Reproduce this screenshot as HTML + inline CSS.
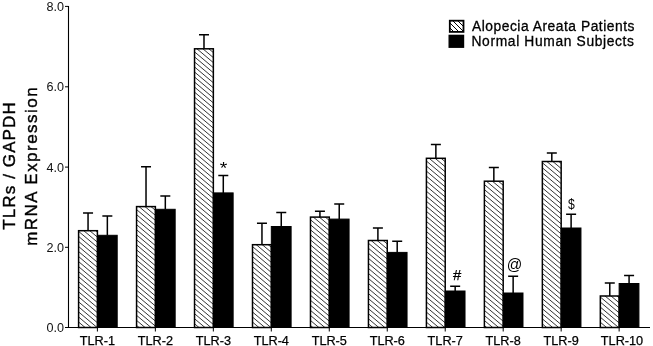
<!DOCTYPE html>
<html><head><meta charset="utf-8"><style>
html,body{margin:0;padding:0;background:#fff;}
svg{display:block;will-change:transform;}
text{font-family:"Liberation Sans",sans-serif;fill:#000;}
.yl{font-size:12.6px;fill:#111;}
.xl{font-size:12.7px;stroke:#000;stroke-width:0.25px;}
.lg{font-size:13.8px;stroke:#000;stroke-width:0.3px;}
.an{stroke:#000;stroke-width:0.25px;}
.tt{font-size:17px;stroke:#000;stroke-width:0.4px;}
</style></head><body>
<svg width="653" height="346" viewBox="0 0 653 346">
<defs>
<clipPath id="hclip"><rect x="78.6" y="230.7" width="18.8" height="96.8"/><rect x="136.57" y="206.6" width="18.8" height="120.9"/><rect x="194.54" y="48.8" width="18.8" height="278.7"/><rect x="252.51" y="244.7" width="18.8" height="82.8"/><rect x="310.48" y="217.1" width="18.8" height="110.4"/><rect x="368.45" y="240.5" width="18.8" height="87.0"/><rect x="426.42" y="158.3" width="18.8" height="169.2"/><rect x="484.39" y="181.2" width="18.8" height="146.3"/><rect x="542.36" y="161.5" width="18.8" height="166.0"/><rect x="600.33" y="296.0" width="18.8" height="31.5"/></clipPath><clipPath id="lclip"><rect x="449.8" y="20.7" width="13.7" height="11.2"/></clipPath>
</defs>
<rect width="653" height="346" fill="#fff"/>
<g clip-path="url(#hclip)"><path d="M60 -504.23L660 -0.23M60 -499.2L660 4.8M60 -494.16L660 9.84M60 -489.12L660 14.88M60 -484.09L660 19.91M60 -479.06L660 24.94M60 -474.02L660 29.98M60 -468.99L660 35.01M60 -463.95L660 40.05M60 -458.92L660 45.08M60 -453.88L660 50.12M60 -448.85L660 55.15M60 -443.81L660 60.19M60 -438.78L660 65.22M60 -433.74L660 70.26M60 -428.71L660 75.29M60 -423.67L660 80.33M60 -418.64L660 85.36M60 -413.6L660 90.4M60 -408.57L660 95.43M60 -403.53L660 100.47M60 -398.5L660 105.5M60 -393.46L660 110.54M60 -388.43L660 115.57M60 -383.39L660 120.61M60 -378.36L660 125.64M60 -373.32L660 130.68M60 -368.29L660 135.71M60 -363.25L660 140.75M60 -358.22L660 145.78M60 -353.18L660 150.82M60 -348.15L660 155.85M60 -343.11L660 160.89M60 -338.08L660 165.92M60 -333.04L660 170.96M60 -328.01L660 175.99M60 -322.97L660 181.03M60 -317.94L660 186.06M60 -312.9L660 191.1M60 -307.87L660 196.13M60 -302.83L660 201.17M60 -297.8L660 206.2M60 -292.76L660 211.24M60 -287.73L660 216.27M60 -282.69L660 221.31M60 -277.66L660 226.34M60 -272.62L660 231.38M60 -267.59L660 236.41M60 -262.55L660 241.45M60 -257.52L660 246.48M60 -252.48L660 251.52M60 -247.45L660 256.55M60 -242.41L660 261.59M60 -237.38L660 266.62M60 -232.34L660 271.66M60 -227.31L660 276.69M60 -222.27L660 281.73M60 -217.23L660 286.76M60 -212.2L660 291.8M60 -207.16L660 296.83M60 -202.13L660 301.87M60 -197.09L660 306.9M60 -192.06L660 311.94M60 -187.03L660 316.97M60 -181.99L660 322.01M60 -176.96L660 327.04M60 -171.92L660 332.08M60 -166.89L660 337.11M60 -161.85L660 342.15M60 -156.81L660 347.18M60 -151.78L660 352.22M60 -146.75L660 357.25M60 -141.71L660 362.29M60 -136.68L660 367.32M60 -131.64L660 372.36M60 -126.6L660 377.39M60 -121.57L660 382.43M60 -116.53L660 387.46M60 -111.5L660 392.5M60 -106.47L660 397.53M60 -101.43L660 402.57M60 -96.4L660 407.6M60 -91.36L660 412.64M60 -86.33L660 417.67M60 -81.29L660 422.71M60 -76.25L660 427.75M60 -71.22L660 432.78M60 -66.19L660 437.81M60 -61.15L660 442.85M60 -56.12L660 447.88M60 -51.08L660 452.92M60 -46.05L660 457.95M60 -41.01L660 462.99M60 -35.98L660 468.02M60 -30.94L660 473.06M60 -25.91L660 478.09M60 -20.87L660 483.13M60 -15.84L660 488.16M60 -10.8L660 493.2M60 -5.77L660 498.23M60 -0.73L660 503.27M60 4.3L660 508.3M60 9.34L660 513.34M60 14.38L660 518.38M60 19.41L660 523.41M60 24.44L660 528.44M60 29.48L660 533.48M60 34.52L660 538.51M60 39.55L660 543.55M60 44.59L660 548.58M60 49.62L660 553.62M60 54.66L660 558.65M60 59.69L660 563.69M60 64.72L660 568.73M60 69.76L660 573.76M60 74.8L660 578.79M60 79.83L660 583.83M60 84.87L660 588.87M60 89.9L660 593.9M60 94.94L660 598.93M60 99.97L660 603.97M60 105.0L660 609.0M60 110.04L660 614.04M60 115.07L660 619.07M60 120.11L660 624.11M60 125.15L660 629.14M60 130.18L660 634.18M60 135.22L660 639.21M60 140.25L660 644.25M60 145.28L660 649.28M60 150.32L660 654.32M60 155.35L660 659.36M60 160.39L660 664.39M60 165.43L660 669.42M60 170.46L660 674.46M60 175.5L660 679.5M60 180.53L660 684.53M60 185.56L660 689.56M60 190.6L660 694.6M60 195.64L660 699.63M60 200.67L660 704.67M60 205.71L660 709.7M60 210.74L660 714.74M60 215.78L660 719.77M60 220.81L660 724.81M60 225.84L660 729.85M60 230.88L660 734.88M60 235.91L660 739.91M60 240.95L660 744.95M60 245.99L660 749.99M60 251.02L660 755.02M60 256.06L660 760.05M60 261.09L660 765.09M60 266.12L660 770.12M60 271.16L660 775.16M60 276.19L660 780.19M60 281.23L660 785.23M60 286.26L660 790.26M60 291.3L660 795.3M60 296.33L660 800.34M60 301.37L660 805.37M60 306.4L660 810.4M60 311.44L660 815.44M60 316.47L660 820.47M60 321.51L660 825.51M60 326.54L660 830.54M60 331.58L660 835.58M60 336.62L660 840.62M60 341.65L660 845.65M60 346.69L660 850.68" stroke="#000" stroke-width="0.8" fill="none"/></g>
<rect x="78.6" y="230.7" width="18.8" height="96.8" fill="none" stroke="#000" stroke-width="1.5"/>
<rect x="97.4" y="235.3" width="19.8" height="92.2" fill="#000" stroke="#000" stroke-width="1"/>
<path d="M88.05 230.7V213.1M83.05 213.1H93.05" stroke="#000" stroke-width="1.5" fill="none"/>
<path d="M107.35 235.3V216.0M102.35 216.0H112.35" stroke="#000" stroke-width="1.5" fill="none"/>
<rect x="136.57" y="206.6" width="18.8" height="120.9" fill="none" stroke="#000" stroke-width="1.5"/>
<rect x="155.37" y="209.3" width="19.8" height="118.2" fill="#000" stroke="#000" stroke-width="1"/>
<path d="M146.02 206.6V166.7M141.02 166.7H151.02" stroke="#000" stroke-width="1.5" fill="none"/>
<path d="M165.32 209.3V196.1M160.32 196.1H170.32" stroke="#000" stroke-width="1.5" fill="none"/>
<rect x="194.54" y="48.8" width="18.8" height="278.7" fill="none" stroke="#000" stroke-width="1.5"/>
<rect x="213.34" y="192.9" width="19.8" height="134.6" fill="#000" stroke="#000" stroke-width="1"/>
<path d="M203.99 48.8V34.8M198.99 34.8H208.99" stroke="#000" stroke-width="1.5" fill="none"/>
<path d="M223.29 192.9V175.5M218.29 175.5H228.29" stroke="#000" stroke-width="1.5" fill="none"/>
<rect x="252.51" y="244.7" width="18.8" height="82.8" fill="none" stroke="#000" stroke-width="1.5"/>
<rect x="271.31" y="226.5" width="19.8" height="101.0" fill="#000" stroke="#000" stroke-width="1"/>
<path d="M261.96 244.7V223.2M256.96 223.2H266.96" stroke="#000" stroke-width="1.5" fill="none"/>
<path d="M281.26 226.5V212.6M276.26 212.6H286.26" stroke="#000" stroke-width="1.5" fill="none"/>
<rect x="310.48" y="217.1" width="18.8" height="110.4" fill="none" stroke="#000" stroke-width="1.5"/>
<rect x="329.28" y="219.1" width="19.8" height="108.4" fill="#000" stroke="#000" stroke-width="1"/>
<path d="M319.93 217.1V211.2M314.93 211.2H324.93" stroke="#000" stroke-width="1.5" fill="none"/>
<path d="M339.23 219.1V203.9M334.23 203.9H344.23" stroke="#000" stroke-width="1.5" fill="none"/>
<rect x="368.45" y="240.5" width="18.8" height="87.0" fill="none" stroke="#000" stroke-width="1.5"/>
<rect x="387.25" y="252.4" width="19.8" height="75.1" fill="#000" stroke="#000" stroke-width="1"/>
<path d="M377.9 240.5V227.9M372.9 227.9H382.9" stroke="#000" stroke-width="1.5" fill="none"/>
<path d="M397.2 252.4V241.2M392.2 241.2H402.2" stroke="#000" stroke-width="1.5" fill="none"/>
<rect x="426.42" y="158.3" width="18.8" height="169.2" fill="none" stroke="#000" stroke-width="1.5"/>
<rect x="445.22" y="291.0" width="19.8" height="36.5" fill="#000" stroke="#000" stroke-width="1"/>
<path d="M435.87 158.3V144.4M430.87 144.4H440.87" stroke="#000" stroke-width="1.5" fill="none"/>
<path d="M455.17 291.0V286.3M450.17 286.3H460.17" stroke="#000" stroke-width="1.5" fill="none"/>
<rect x="484.39" y="181.2" width="18.8" height="146.3" fill="none" stroke="#000" stroke-width="1.5"/>
<rect x="503.19" y="293.0" width="19.8" height="34.5" fill="#000" stroke="#000" stroke-width="1"/>
<path d="M493.84 181.2V167.4M488.84 167.4H498.84" stroke="#000" stroke-width="1.5" fill="none"/>
<path d="M513.14 293.0V276.3M508.14 276.3H518.14" stroke="#000" stroke-width="1.5" fill="none"/>
<rect x="542.36" y="161.5" width="18.8" height="166.0" fill="none" stroke="#000" stroke-width="1.5"/>
<rect x="561.16" y="228.0" width="19.8" height="99.5" fill="#000" stroke="#000" stroke-width="1"/>
<path d="M551.81 161.5V153.0M546.81 153.0H556.81" stroke="#000" stroke-width="1.5" fill="none"/>
<path d="M571.11 228.0V214.3M566.11 214.3H576.11" stroke="#000" stroke-width="1.5" fill="none"/>
<rect x="600.33" y="296.0" width="18.8" height="31.5" fill="none" stroke="#000" stroke-width="1.5"/>
<rect x="619.13" y="283.5" width="19.8" height="44.0" fill="#000" stroke="#000" stroke-width="1"/>
<path d="M609.78 296.0V282.9M604.78 282.9H614.78" stroke="#000" stroke-width="1.5" fill="none"/>
<path d="M629.08 283.5V275.6M624.08 275.6H634.08" stroke="#000" stroke-width="1.5" fill="none"/>
<path d="M68.5 6V327.5H650" stroke="#000" stroke-width="1.1" fill="none"/>
<path d="M65 327.5H68.5" stroke="#000" stroke-width="1"/>
<text x="64.0" y="332.0" text-anchor="end" class="yl">0.0</text>
<path d="M65 247.3H68.5" stroke="#000" stroke-width="1"/>
<text x="64.0" y="251.8" text-anchor="end" class="yl">2.0</text>
<path d="M65 167.1H68.5" stroke="#000" stroke-width="1"/>
<text x="64.0" y="171.6" text-anchor="end" class="yl">4.0</text>
<path d="M65 86.8H68.5" stroke="#000" stroke-width="1"/>
<text x="64.0" y="91.3" text-anchor="end" class="yl">6.0</text>
<path d="M65 6.4H68.5" stroke="#000" stroke-width="1"/>
<text x="64.0" y="10.9" text-anchor="end" class="yl">8.0</text>
<path d="M97.4 327V331.5" stroke="#000" stroke-width="1"/>
<text x="97.4" y="344.6" text-anchor="middle" class="xl">TLR-1</text>
<path d="M155.37 327V331.5" stroke="#000" stroke-width="1"/>
<text x="155.37" y="344.6" text-anchor="middle" class="xl">TLR-2</text>
<path d="M213.34 327V331.5" stroke="#000" stroke-width="1"/>
<text x="213.34" y="344.6" text-anchor="middle" class="xl">TLR-3</text>
<path d="M271.31 327V331.5" stroke="#000" stroke-width="1"/>
<text x="271.31" y="344.6" text-anchor="middle" class="xl">TLR-4</text>
<path d="M329.28 327V331.5" stroke="#000" stroke-width="1"/>
<text x="329.28" y="344.6" text-anchor="middle" class="xl">TLR-5</text>
<path d="M387.25 327V331.5" stroke="#000" stroke-width="1"/>
<text x="387.25" y="344.6" text-anchor="middle" class="xl">TLR-6</text>
<path d="M445.22 327V331.5" stroke="#000" stroke-width="1"/>
<text x="445.22" y="344.6" text-anchor="middle" class="xl">TLR-7</text>
<path d="M503.18999999999994 327V331.5" stroke="#000" stroke-width="1"/>
<text x="503.19" y="344.6" text-anchor="middle" class="xl">TLR-8</text>
<path d="M561.16 327V331.5" stroke="#000" stroke-width="1"/>
<text x="561.16" y="344.6" text-anchor="middle" class="xl">TLR-9</text>
<path d="M619.13 327V331.5" stroke="#000" stroke-width="1"/>
<text x="622.0" y="344.6" text-anchor="middle" class="xl">TLR-10</text>

<text font-size="16.6" transform="translate(219.8 174.3) scale(1.17 1)">*</text>
<text class="an" font-size="14.8" x="452.9" y="279.6">#</text>
<text font-size="15.3" transform="translate(506.8 269.9) scale(1 1.06)">@</text>
<text font-size="14.7" transform="translate(568 208.9) scale(0.83 1)">$</text>

<g clip-path="url(#lclip)"><path d="M440 18L470 48M440 13L470 43M440 8L470 38M440 3L470 33" stroke="#000" stroke-width="1.0"/></g>
<rect x="449.8" y="20.7" width="13.7" height="11.2" fill="none" stroke="#000" stroke-width="1.8"/>
<rect x="449.2" y="35.4" width="14.3" height="11.8" fill="#000" stroke="#000" stroke-width="1.4"/>
<text class="lg" x="472" y="31" textLength="162.5" lengthAdjust="spacing">Alopecia Areata Patients</text>
<text class="lg" x="471.5" y="46.3" textLength="162.5" lengthAdjust="spacing">Normal Human Subjects</text>
<g transform="translate(14.75 166) rotate(-90)"><text class="tt" x="0" y="0" text-anchor="middle" textLength="127.5" lengthAdjust="spacing">TLRs / GAPDH</text></g>
<g transform="translate(37.0 166.6) rotate(-90)"><text class="tt" x="0" y="0" text-anchor="middle" textLength="158.5" lengthAdjust="spacing">mRNA Expression</text></g>
</svg>
</body></html>
